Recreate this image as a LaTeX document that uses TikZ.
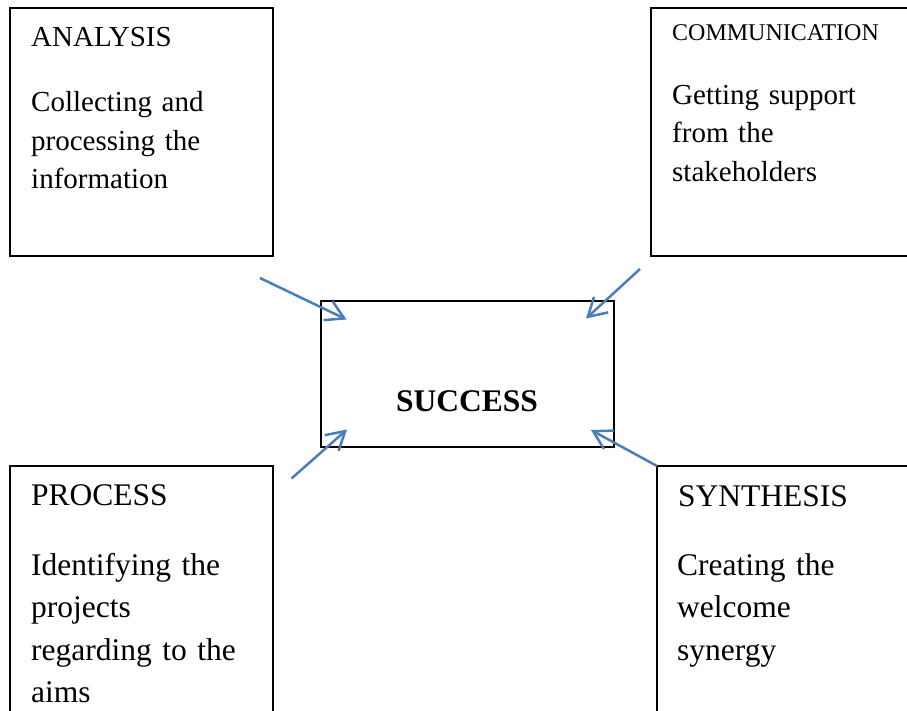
\documentclass[tikz,border=0pt]{standalone}
\usepackage{fontspec}
\setmainfont{Liberation Serif}
\usetikzlibrary{arrows.meta}
\definecolor{linkblue}{RGB}{74,126,187}
\begin{document}
\begin{tikzpicture}[x=1pt,y=-1pt,
  box/.style={draw=black, line width=2pt, rectangle, inner sep=0pt, outer sep=0pt, anchor=north west},
  head/.style={anchor=base west, inner sep=0pt, font=\fontsize{29}{38}\selectfont},
  smallhead/.style={anchor=base west, inner sep=0pt, font=\fontsize{24}{30}\selectfont},
  body/.style={anchor=base west, inner sep=0pt, align=left, text width=240pt, font=\fontsize{29}{38.5}\selectfont},
  lowhead/.style={anchor=base west, inner sep=0pt, font=\fontsize{31.5}{42.5}\selectfont},
  lowbody/.style={anchor=base west, inner sep=0pt, align=left, text width=240pt, font=\fontsize{31.5}{42.5}\selectfont},
  link/.style={draw=linkblue, line width=2.5pt, -{Straight Barb[length=18pt, width=21pt]}}
]
\useasboundingbox (0,0) rectangle (907,711);
\clip (0,0) rectangle (907,711);

% the five boxes
\node[box, minimum width=263pt, minimum height=248.5pt] (analysis) at (10,8) {};
\node[box, minimum width=280pt, minimum height=248.5pt] (communication) at (651,8) {};
\node[box, minimum width=293.5pt, minimum height=145.5pt] (success) at (320.5,301) {};
\node[box, minimum width=263.5pt, minimum height=270pt] (process) at (9.5,466) {};
\node[box, minimum width=280pt, minimum height=270pt] (synthesis) at (657,466) {};

% titles and descriptions
\node[head] (analysisT) at (31,47) {ANALYSIS};
\node[body] (analysisB) at (31,112) {Collecting and\\processing the\\information};

\node[smallhead] (communicationT) at (672,40.5) {COMMUNICATION};
\node[body] (communicationB) at (672,104.5) {Getting support\\from the\\stakeholders};

\node[anchor=base, inner sep=0pt, font=\fontsize{31.5}{38}\selectfont\bfseries] (successT) at (467,411) {SUCCESS};

\node[lowhead] (processT) at (31,505) {PROCESS};
\node[lowbody] (processB) at (31,575) {Identifying the\\projects\\regarding to the\\aims};

\node[lowhead] (synthesisT) at (678,506.5) {SYNTHESIS};
\node[lowbody] (synthesisB) at (677,575) {Creating the\\welcome\\synergy};

% arrows pointing into the centre box
\coordinate (a1s) at (260,278);
\coordinate (a1e) at (346.5,319.5);
\coordinate (a2s) at (640,269);
\coordinate (a2e) at (586,318.5);
\coordinate (a3s) at (291.5,478.5);
\coordinate (a3e) at (347,429.5);
\coordinate (a4e) at (591,430);

\draw[link] (a1s) -- (a1e);
\draw[link] (a2s) -- (a2e);
\draw[link] (a3s) -- (a3e);
\draw[link] (synthesis.north west) -- (a4e);
\end{tikzpicture}
\end{document}
